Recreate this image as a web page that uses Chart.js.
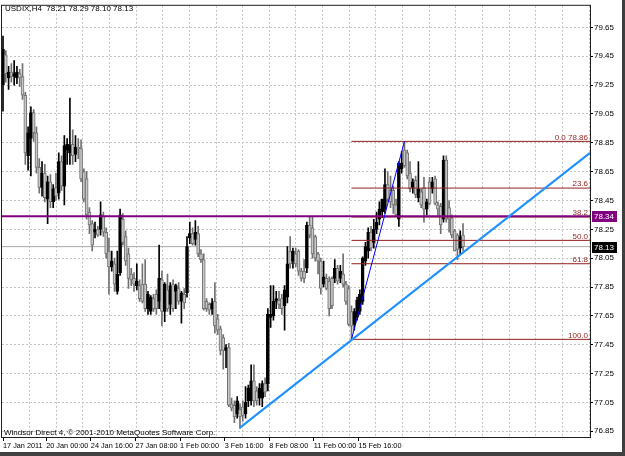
<!DOCTYPE html>
<html>
<head>
<meta charset="utf-8">
<title>USDIX,H4</title>
<script src="https://cdn.jsdelivr.net/npm/chart.js@4.4.0/dist/chart.umd.min.js"></script>
<style>
  html, body { margin: 0; padding: 0; background: #fff; }
  canvas { display: block; }
</style>
</head>
<body>
<canvas id="chart" width="625" height="456"></canvas>
<script>
// Fonts and colours
const FONT = '"Liberation Sans", Arial, sans-serif';
const UP_COLOR = '#000000';
const DOWN_COLOR = '#707070';
const DOWN_FILL = '#c8c8c8';
const GRID_COLOR = '#c4c4c4';
const FIBO_COLOR = '#931f1f';

// H4 candles, 17 Jan 2011 -> 17 Feb 2011
const opens = [
  79.25, 79.46, 79.30, 79.34, 79.31, 79.30, 79.33, 79.31, 79.18, 78.76,
  78.88, 79.06, 78.92, 78.68, 78.54, 78.64, 78.46, 78.58, 78.44, 78.54,
  78.50, 78.72, 78.55, 78.80, 78.78, 78.84, 78.77, 78.82, 78.81, 78.65,
  78.60, 78.37, 78.29, 78.23, 78.25, 78.25, 78.34, 78.23, 78.10, 77.99,
  78.01, 77.82, 77.95, 78.32, 78.20, 78.08, 77.94, 77.91, 77.86, 77.86,
  77.87, 77.87, 77.70, 77.68, 77.77, 77.80, 77.75, 77.90, 77.68, 77.83,
  77.73, 77.87, 77.82, 77.84, 77.75, 77.80, 77.81, 78.19, 78.22, 78.18,
  78.22, 78.08, 78.04, 77.75, 77.73, 77.70, 77.75, 77.63, 77.56, 77.50,
  77.41, 77.43, 77.04, 77.03, 76.97, 77.00, 77.02, 76.97, 77.06, 77.06,
  77.20, 77.13, 77.08, 77.08, 77.18, 77.18, 77.64, 77.65, 77.75, 77.76,
  77.77, 77.72, 77.78, 78.10, 78.03, 78.08, 78.10, 77.96, 77.96, 77.98,
  78.28, 78.26, 78.20, 78.08, 78.03, 77.87, 77.91, 77.89, 77.91, 77.91,
  77.98, 77.91, 77.94, 77.87, 77.84, 77.68, 77.59, 77.64, 77.68, 77.75,
  78.03, 78.10, 78.23, 78.16, 78.25, 78.32, 78.37, 78.39, 78.56, 78.52,
  78.52, 78.42, 78.32, 78.67, 78.80, 78.78, 78.64, 78.54, 78.59, 78.47,
  78.51, 78.54, 78.39, 78.58, 78.53, 78.60, 78.42, 78.41, 78.32, 78.73,
  78.40, 78.33, 78.24, 78.21, 78.12, 78.21
];
const highs = [
  79.59, 79.49, 79.38, 79.40, 79.42, 79.38, 79.36, 79.40, 79.20, 78.96,
  79.10, 79.08, 78.96, 78.74, 78.72, 78.70, 78.62, 78.63, 78.56, 78.64,
  78.78, 78.76, 78.90, 78.88, 79.16, 78.94, 78.90, 78.88, 78.87, 78.67,
  78.65, 78.40, 78.31, 78.30, 78.27, 78.44, 78.37, 78.26, 78.19, 78.10,
  78.05, 78.10, 78.39, 78.36, 78.24, 78.12, 77.98, 77.95, 78.01, 77.90,
  78.01, 78.04, 77.82, 77.79, 77.80, 77.83, 78.14, 77.96, 77.88, 77.94,
  77.88, 77.90, 77.87, 77.88, 77.82, 77.84, 78.20, 78.30, 78.26, 78.31,
  78.27, 78.11, 78.08, 77.77, 77.74, 77.77, 77.88, 77.66, 77.58, 77.52,
  77.45, 77.46, 77.08, 77.06, 77.09, 77.04, 77.06, 77.16, 77.17, 77.31,
  77.31, 77.16, 77.18, 77.20, 77.22, 77.70, 77.86, 77.86, 77.82, 77.82,
  77.80, 77.86, 78.13, 78.20, 78.12, 78.12, 78.11, 77.98, 78.04, 78.30,
  78.34, 78.34, 78.21, 78.09, 78.05, 78.03, 77.94, 77.92, 77.92, 78.04,
  78.00, 78.00, 78.08, 77.89, 77.86, 77.72, 77.70, 77.78, 77.83, 78.06,
  78.16, 78.26, 78.27, 78.32, 78.37, 78.44, 78.46, 78.67, 78.65, 78.62,
  78.55, 78.46, 78.72, 78.79, 78.86, 78.80, 78.72, 78.60, 78.62, 78.72,
  78.53, 78.61, 78.46, 78.61, 78.61, 78.62, 78.44, 78.43, 78.76, 78.76,
  78.45, 78.35, 78.25, 78.22, 78.24, 78.29
];
const lows = [
  79.07, 79.27, 79.22, 79.27, 79.25, 79.26, 79.24, 79.15, 78.70, 78.66,
  78.62, 78.86, 78.64, 78.50, 78.48, 78.44, 78.29, 78.40, 78.40, 78.45,
  78.46, 78.52, 78.42, 78.70, 78.70, 78.70, 78.72, 78.74, 78.58, 78.44,
  78.32, 78.22, 78.10, 78.19, 78.20, 78.21, 78.20, 78.05, 77.80, 77.96,
  77.82, 77.80, 77.93, 78.14, 78.00, 77.84, 77.86, 77.82, 77.83, 77.75,
  77.74, 77.68, 77.66, 77.66, 77.68, 77.66, 77.70, 77.58, 77.61, 77.68,
  77.66, 77.68, 77.70, 77.73, 77.60, 77.70, 77.78, 78.15, 78.14, 78.14,
  78.06, 78.02, 77.69, 77.68, 77.66, 77.66, 77.53, 77.52, 77.38, 77.28,
  77.29, 77.02, 76.99, 76.91, 76.94, 76.87, 76.92, 76.94, 77.02, 77.03,
  77.02, 77.03, 77.03, 77.02, 77.09, 77.13, 77.57, 77.62, 77.70, 77.70,
  77.66, 77.55, 77.74, 77.98, 77.98, 77.99, 77.93, 77.89, 77.88, 77.95,
  78.19, 78.05, 78.03, 77.94, 77.80, 77.85, 77.83, 77.65, 77.70, 77.88,
  77.87, 77.88, 77.85, 77.73, 77.58, 77.487, 77.55, 77.62, 77.66, 77.73,
  78.00, 78.05, 78.10, 78.12, 78.22, 78.28, 78.33, 78.36, 78.44, 78.40,
  78.36, 78.34, 78.27, 78.64, 78.68, 78.60, 78.51, 78.50, 78.47, 78.44,
  78.40, 78.30, 78.35, 78.42, 78.50, 78.42, 78.34, 78.22, 78.30, 78.30,
  78.23, 78.19, 78.10, 78.04, 78.08, 78.10
];
const closes = [
  79.50, 79.33, 79.34, 79.31, 79.33, 79.34, 79.30, 79.18, 78.78, 78.92,
  79.06, 78.92, 78.68, 78.54, 78.64, 78.47, 78.58, 78.44, 78.53, 78.48,
  78.72, 78.55, 78.83, 78.84, 78.83, 78.76, 78.82, 78.81, 78.60, 78.46,
  78.35, 78.28, 78.14, 78.25, 78.21, 78.35, 78.23, 78.08, 77.99, 78.03,
  77.87, 77.94, 78.35, 78.16, 78.03, 77.91, 77.90, 77.87, 77.89, 77.77,
  77.75, 77.70, 77.80, 77.78, 77.70, 77.70, 77.91, 77.68, 77.87, 77.70,
  77.86, 77.70, 77.86, 77.75, 77.81, 77.74, 78.13, 78.22, 78.15, 78.23,
  78.08, 78.04, 77.70, 77.70, 77.69, 77.74, 77.58, 77.55, 77.41, 77.41,
  77.43, 77.03, 77.01, 76.95, 77.06, 76.95, 76.96, 77.05, 77.15, 77.20,
  77.06, 77.06, 77.15, 77.18, 77.12, 77.66, 77.66, 77.75, 77.77, 77.73,
  77.70, 77.83, 78.01, 78.01, 78.10, 78.01, 77.96, 77.91, 77.91, 78.28,
  78.21, 78.08, 78.05, 78.03, 77.84, 77.92, 77.84, 77.70, 77.72, 77.98,
  77.89, 77.96, 77.87, 77.75, 77.59, 77.58, 77.68, 77.76, 77.80, 78.05,
  78.13, 78.23, 78.12, 78.25, 78.30, 78.39, 78.46, 78.56, 78.46, 78.44,
  78.42, 78.35, 78.71, 78.71, 78.69, 78.62, 78.53, 78.58, 78.49, 78.53,
  78.42, 78.39, 78.44, 78.43, 78.58, 78.43, 78.39, 78.28, 78.73, 78.32,
  78.32, 78.21, 78.10, 78.11, 78.20, 78.13
];

// Axes
const yTicks = [76.85, 77.05, 77.25, 77.45, 77.65, 77.85, 78.05, 78.25,
                78.45, 78.65, 78.85, 79.05, 79.25, 79.45, 79.65];
const xTickPos = [0, 15.5, 31.5, 47.5, 63.5, 79.5, 95.5, 111.5, 127.5];
const xTickLabels = ['17 Jan 2011', '20 Jan 00:00', '24 Jan 16:00', '27 Jan 08:00',
  '1 Feb 00:00', '3 Feb 16:00', '8 Feb 08:00', '11 Feb 00:00', '15 Feb 16:00'];
const X_MIN = -0.36, X_MAX = 210.55;
const Y_MIN = 76.81, Y_MAX = 79.80;
const GRID_STEP = 9.565; // vertical grid every ~9.5 bars

// Objects drawn on the chart
const fiboStartBar = 125, fiboEndBar = 144;
const fiboLow = 77.487, fiboHigh = 78.86;
const fiboLevels = [0, 23.6, 38.2, 50, 61.8, 100];
const trendBars = [85, X_MAX];
const trendPrices = [76.875, 78.78];
const purpleLevel = 78.34;
const bidLevel = 78.13;

const title = 'USDIX,H4  78.21 78.29 78.10 78.13';
const footer = 'Windsor Direct 4, \u00A9 2001-2010 MetaQuotes Software Corp.';

// Build datasets
const isUp = opens.map((o, i) => closes[i] >= o);
const wickData = opens.map((o, i) => ({ x: i, y: [lows[i], highs[i]] }));
const bodyData = opens.map((o, i) => ({ x: i, y: [o, closes[i]] }));
const edgeColors = isUp.map(u => u ? UP_COLOR : DOWN_COLOR);
const fillColors = isUp.map(u => u ? UP_COLOR : DOWN_FILL);

function hline(v, from) {
  return [{ x: from, y: v }, { x: X_MAX, y: v }];
}
function fiboValue(level) {
  return fiboHigh - (fiboHigh - fiboLow) * level / 100;
}

const lineBase = { type: 'line', pointRadius: 0, fill: false, tension: 0 };

const datasets = [
  Object.assign({}, lineBase, { data: hline(bidLevel, X_MIN), borderColor: '#a8a8a8', borderWidth: 1, order: 12 }),
  { type: 'bar', data: wickData, backgroundColor: edgeColors, barThickness: 1, grouped: false, order: 11 },
  {
    type: 'bar', data: bodyData, backgroundColor: fillColors, borderColor: edgeColors,
    borderWidth: 1, borderSkipped: false, barThickness: 3, minBarLength: 1, grouped: false, order: 10
  },
  Object.assign({}, lineBase, { data: hline(purpleLevel, X_MIN), borderColor: '#800080', borderWidth: 2, order: 4 })
];
fiboLevels.forEach(l => {
  datasets.push(Object.assign({}, lineBase, {
    data: hline(fiboValue(l), fiboStartBar), borderColor: FIBO_COLOR, borderWidth: 1, order: 5
  }));
});
datasets.push(Object.assign({}, lineBase, {
  data: [{ x: fiboStartBar, y: fiboLow }, { x: fiboEndBar, y: fiboHigh }],
  borderColor: '#0000ff', borderWidth: 1, order: 2
}));
datasets.push(Object.assign({}, lineBase, {
  data: trendBars.map((b, i) => ({ x: b, y: trendPrices[i] })),
  borderColor: '#1e90ff', borderWidth: 2, order: 1
}));

// Texts, price boxes and frame
const overlay = {
  id: 'overlay',
  beforeDraw(chart) {
    const ctx = chart.ctx;
    ctx.save();
    ctx.fillStyle = '#fff';
    ctx.fillRect(0, 0, chart.width, chart.height);
    ctx.restore();
  },
  afterDraw(chart) {
    const { ctx, chartArea: a, scales: { y } } = chart;
    ctx.save();
    ctx.strokeStyle = '#202020';
    ctx.lineWidth = 1;
    ctx.strokeRect(a.left - 0.5, a.top - 0.5, a.right - a.left + 1, a.bottom - a.top + 1);

    ctx.font = '8px ' + FONT;
    ctx.fillStyle = '#000';
    ctx.textAlign = 'left';
    ctx.textBaseline = 'middle';
    ctx.fillText(title, 5, 9);
    ctx.fillText(footer, 4, 433);

    // fibo level labels
    ctx.fillStyle = FIBO_COLOR;
    ctx.textAlign = 'right';
    ctx.textBaseline = 'bottom';
    fiboLevels.forEach(l => {
      const v = fiboValue(l);
      const txt = l.toFixed(1) + (l === 0 ? ' ' + v.toFixed(2) : '');
      ctx.fillText(txt, a.right - 2, y.getPixelForValue(v));
    });

    // price boxes on the axis
    [[purpleLevel, '#800080'], [bidLevel, '#000']].forEach(([v, c]) => {
      const py = Math.round(y.getPixelForValue(v));
      ctx.fillStyle = c;
      ctx.fillRect(a.right + 2, py - 5, 25, 11);
      ctx.fillStyle = '#fff';
      ctx.textAlign = 'left';
      ctx.textBaseline = 'middle';
      ctx.fillText(v.toFixed(2), a.right + 4, py + 0.5);
    });

    // window edge
    ctx.fillStyle = '#404040';
    ctx.fillRect(0, 452, chart.width, 4);
    ctx.fillRect(622, 0, 3, chart.height);
    ctx.restore();
  }
};

const tickFont = { family: FONT, size: 8 };

new Chart(document.getElementById('chart'), {
  type: 'bar',
  data: { datasets },
  options: {
    responsive: false,
    animation: false,
    events: [],
    layout: { padding: { left: 2, top: 2, right: 0, bottom: 0 } },
    plugins: { legend: { display: false }, tooltip: { enabled: false } },
    scales: {
      x: {
        type: 'linear', min: X_MIN, max: X_MAX, offset: false,
        afterBuildTicks: s => { s.ticks = xTickPos.map(v => ({ value: v })); },
        afterFit: s => { s.height = 19; },
        ticks: {
          callback: (v, i) => xTickLabels[i], align: 'start', autoSkip: false,
          maxRotation: 0, font: { family: FONT, size: 7.3 }, color: '#000', padding: 1
        },
        grid: { drawOnChartArea: false, offset: false, tickColor: '#000', tickLength: 4 },
        border: { display: false }
      },
      xg: {
        type: 'linear', position: 'bottom', min: X_MIN, max: X_MAX, offset: false,
        afterBuildTicks: s => {
          const t = [];
          for (let v = GRID_STEP - 0.12; v < X_MAX; v += GRID_STEP) t.push({ value: v });
          s.ticks = t;
        },
        afterFit: s => { s.height = 0; },
        ticks: { display: false },
        grid: { color: GRID_COLOR, offset: false, drawTicks: false },
        border: { display: false, dash: [2, 2] }
      },
      y: {
        type: 'linear', position: 'right', min: Y_MIN, max: Y_MAX,
        afterBuildTicks: s => { s.ticks = yTicks.map(v => ({ value: v })); },
        afterFit: s => { s.width = 35; },
        ticks: { callback: v => v.toFixed(2), font: tickFont, color: '#000', padding: 1 },
        grid: { color: GRID_COLOR, tickColor: '#000', tickLength: 3 },
        border: { display: false, dash: [2, 2] }
      }
    }
  },
  plugins: [overlay]
});
</script>
</body>
</html>
